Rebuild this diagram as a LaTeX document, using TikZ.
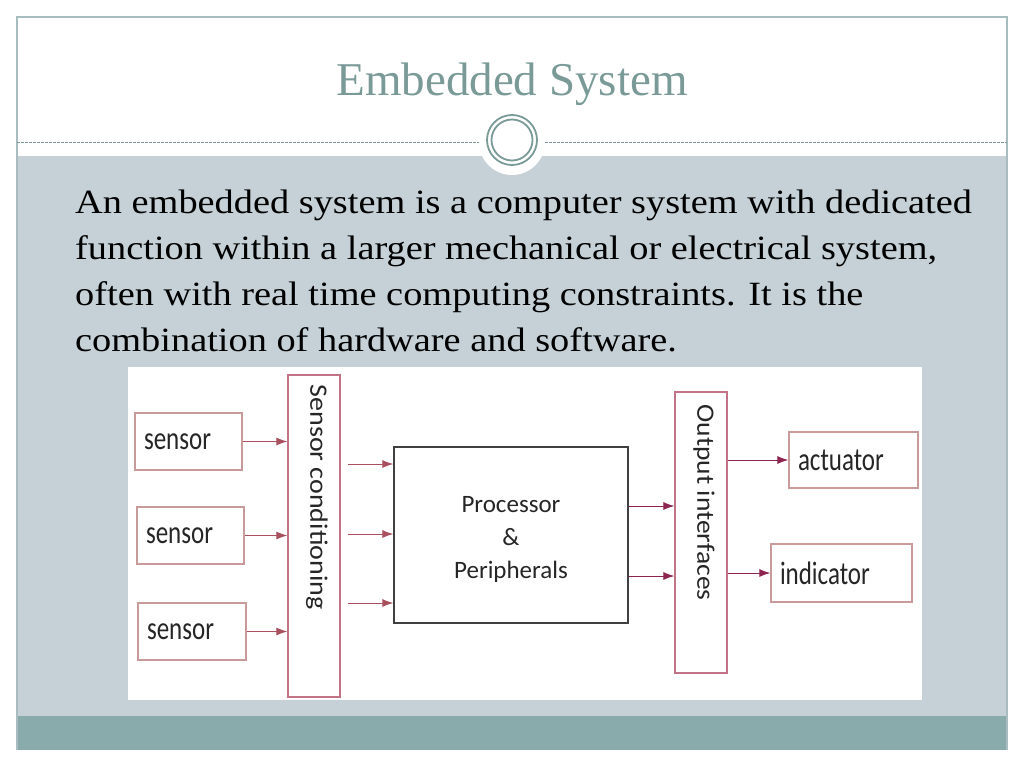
\documentclass[tikz,border=0pt]{standalone}
\usepackage{fontspec}
\setmainfont{Liberation Serif}
\newfontfamily\diafont{Carlito}
\usepackage{tikz}
\usetikzlibrary{arrows.meta}
\definecolor{slidegrey}{HTML}{C5D1D7}
\definecolor{slideteal}{HTML}{8AABAB}
\definecolor{titleteal}{HTML}{7A9A98}
\definecolor{framegrey}{HTML}{A9BCC0}
\definecolor{boxpink}{HTML}{C99A9A}
\definecolor{barpink}{HTML}{C27486}
\definecolor{arrred}{HTML}{A9505E}
\definecolor{arrmag}{HTML}{8E2450}
\newcommand{\tallword}[1]{\scalebox{1}[1.3]{#1}}
\newcommand{\longword}[2]{\scalebox{#1}[1]{#2}}

\begin{document}
\begin{tikzpicture}[x=1pt, y=-1pt]
\tikzstyle{every node}=[font=\diafont\fontsize{25}{33}\selectfont, text=black!85];
\tikzstyle{inbox}=[draw=boxpink, line width=1.2pt, inner xsep=9pt, align=left];
\tikzstyle{bar}=[draw=barpink, line width=1.2pt, minimum width=52pt];
\tikzstyle{conn}=[draw=arrred, line width=1pt, -{Latex[length=11pt,width=8pt]}];
\tikzstyle{outconn}=[draw=arrmag, line width=1pt, -{Latex[length=11pt,width=8pt]}];
\useasboundingbox (0,0) rectangle (1024,768);
% slide
\fill[white] (0,0) rectangle (1024,768);
\fill[slidegrey] (17,156) rectangle (1007,716);
\fill[slideteal] (17,716) rectangle (1007,750);
\draw[framegrey, line width=1.2pt] (17,750) -- (17,17) -- (1007,17) -- (1007,750);
\draw[titleteal, line width=0.8pt, dash pattern=on 2.5pt off 1.5pt] (17,142) -- (1007,142);
\fill[white] (512,142) circle (33pt);
\draw[titleteal, line width=1.8pt] (512,140) circle (25pt) (512,140) circle (20.5pt);
\path (512,95) node[anchor=base, font=\fontsize{47}{56}\selectfont, text=titleteal] (title) {Embedded System};
\path (75,180.8) node[anchor=north west, inner sep=0pt, font=\fontsize{34}{46}\selectfont, text=black] (intro)
{\longword{1.128}{\begin{tabular}{@{}l@{}}
An embedded system is a computer system with dedicated\\
function within a larger mechanical or electrical system,\\
often with real time computing constraints. It is the\\
combination of hardware and software.
\end{tabular}}};
% diagram
\fill[white] (128,367) rectangle (922,700);
\path (188.5,441.5) node[inbox, text width=89pt, minimum height=57pt] (s1) {\tallword{sensor}};
\path (190.5,535.5) node[inbox, text width=89pt, minimum height=57pt] (s2) {\tallword{sensor}};
\path (192,631.5) node[inbox, text width=90pt, minimum height=57pt] (s3) {\tallword{sensor}};
\path (314,536) node[bar, minimum height=322pt] (cond) {};
\path (cond.north) ++(3,10) node[rotate=-90, anchor=west, inner sep=0pt] (condtxt) {\longword{1.12}{Sensor conditioning}};
\path (511,535) node[draw=black!75, line width=1.2pt, minimum width=234pt, minimum height=176pt, align=center] (proc) {\rule{0pt}{26pt}Processor\\\&\\Peripherals};
\path (701,532.5) node[bar, minimum height=281pt] (out) {};
\path (out.north) ++(3,13) node[rotate=-90, anchor=west, inner sep=0pt] (outtxt) {\longword{1.1}{Output interfaces}};
\path (853.5,460) node[inbox, text width=111pt, minimum height=56pt] (act) {\tallword{actuator}};
\path (841.5,573) node[inbox, text width=123pt, minimum height=58pt] (ind) {\tallword{indicator}};
\coordinate (p1) at ([yshift=71pt]proc.west);
\coordinate (p2) at ([yshift=1pt]proc.west);
\coordinate (p3) at ([yshift=-68pt]proc.west);
\coordinate (q1) at ([yshift=29pt]proc.east);
\coordinate (q2) at ([yshift=-41pt]proc.east);
\foreach \s in {s1,s2,s3}
  \draw[conn] (\s.east) -- (\s.east -| cond.west);
\foreach \p in {p1,p2,p3}
  \draw[conn, shorten <=7pt] (\p -| cond.east) -- (\p);
\foreach \q in {q1,q2}
  \draw[outconn] (\q) -- (\q -| out.west);
\foreach \t in {act,ind}
  \draw[outconn] (\t.west -| out.east) -- (\t.west);
\end{tikzpicture}
\end{document}
